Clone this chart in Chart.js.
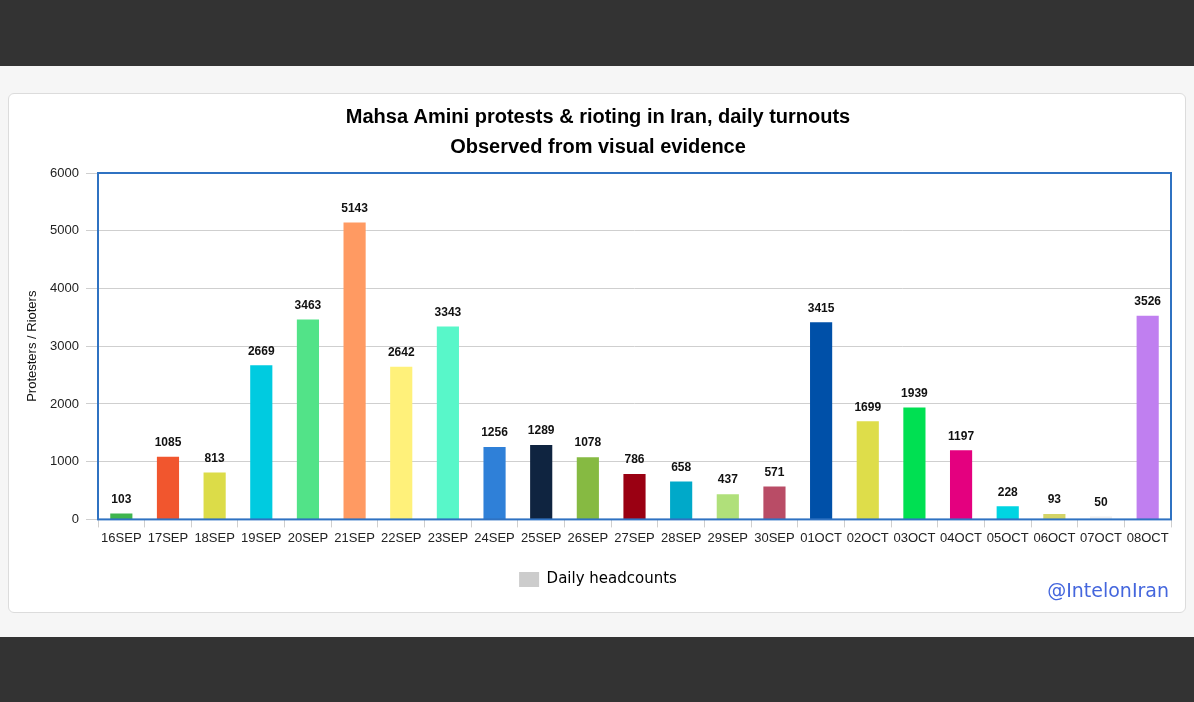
<!DOCTYPE html>
<html>
<head>
<meta charset="utf-8">
<script src="https://cdn.jsdelivr.net/npm/chart.js@4/dist/chart.umd.min.js"></script>
<style>
  html, body { margin: 0; padding: 0; }
  body { width: 1194px; height: 702px; background: #f6f6f6; position: relative; overflow: hidden; font-family: "Liberation Sans", Arial, sans-serif; }
  .band { position: absolute; left: 0; width: 1194px; background: #333333; }
  #card { position: absolute; left: 8px; top: 93px; width: 1176px; height: 518px; background: #fff; border: 1px solid #dcdcdc; border-radius: 6px; }
  #wrap { position: absolute; left: 0; top: 0; width: 1176px; height: 518px; }
  #mark { position: absolute; right: 16px; top: 485px; color: #4466dd; font-family: "DejaVu Sans", sans-serif; font-size: 19px; }
</style>
</head>
<body>
<div class="band" style="top:0;height:66px"></div>
<div class="band" style="top:637px;height:65px"></div>
<div id="card">
  <div id="wrap"><canvas id="c" width="1176" height="518"></canvas></div>
  <div id="mark">@IntelonIran</div>
</div>
<script>
const titleLines = ["Mahsa Amini protests & rioting in Iran, daily turnouts", "Observed from visual evidence"];
const yAxisTitle = "Protesters / Rioters";
const seriesName = "Daily headcounts";
const categories = ["16SEP","17SEP","18SEP","19SEP","20SEP","21SEP","22SEP","23SEP","24SEP","25SEP","26SEP","27SEP","28SEP","29SEP","30SEP","01OCT","02OCT","03OCT","04OCT","05OCT","06OCT","07OCT","08OCT"];
const headcounts = [103,1085,813,2669,3463,5143,2642,3343,1256,1289,1078,786,658,437,571,3415,1699,1939,1197,228,93,50,3526];
const barColors = ["#3fb54e","#f1562e","#dcdc48","#00cbe0","#52e388","#ff9a62","#fff17a","#58f7c9","#2f80d8","#0f2440","#86ba42","#9a0012","#00a9c9","#b0e07a","#b94c66","#0050a8","#dedd4a","#00e052","#e4007f","#00d4e2","#d4d466","#f0f0f0","#c07ff0"];
const yTicks = [0,1000,2000,3000,4000,5000,6000];

const frame = {
  id: 'frame',
  afterDatasetsDraw(chart) {
    const a = chart.chartArea, ctx = chart.ctx;
    ctx.save();
    ctx.strokeStyle = '#2f72c2';
    ctx.lineWidth = 2;
    ctx.strokeRect(a.left, a.top, a.right - a.left, a.bottom - a.top);
    ctx.restore();
  }
};
const valueLabels = {
  id: 'valueLabels',
  afterDatasetsDraw(chart) {
    const ctx = chart.ctx;
    const meta = chart.getDatasetMeta(0);
    ctx.save();
    ctx.font = 'bold 12px "Liberation Sans", Arial, sans-serif';
    ctx.fillStyle = '#111';
    ctx.textAlign = 'center';
    ctx.textBaseline = 'bottom';
    meta.data.forEach((bar, i) => {
      ctx.fillText(String(headcounts[i]), bar.x, bar.y - 8);
    });
    ctx.restore();
  }
};

new Chart(document.getElementById('c'), {
  type: 'bar',
  data: {
    labels: categories,
    datasets: [{
      label: seriesName,
      data: headcounts,
      backgroundColor: barColors,
      borderWidth: 0,
      categoryPercentage: 1,
      barPercentage: 0.475
    }]
  },
  options: {
    responsive: false,
    animation: false,
    layout: { padding: { left: 16, right: 14, top: 0, bottom: 15 } },
    plugins: {
      title: {
        display: true,
        text: titleLines,
        color: '#000',
        font: { family: '"Liberation Sans", Arial, sans-serif', size: 20, weight: 'bold', lineHeight: 1.5 },
        padding: { top: 8, bottom: 11 }
      },
      legend: {
        display: true,
        position: 'bottom',
        labels: {
          color: '#333',
          font: { family: '"DejaVu Sans", sans-serif', size: 15 },
          boxWidth: 20,
          boxHeight: 15,
          padding: 14,
          generateLabels() {
            return [{ text: seriesName, fillStyle: '#cccccc', strokeStyle: '#cccccc', lineWidth: 0, datasetIndex: 0 }];
          }
        }
      },
      tooltip: { enabled: false }
    },
    scales: {
      x: {
        offset: true,
        afterFit(scale) { scale.height += 9; },
        grid: { display: true, drawOnChartArea: false, drawTicks: true, tickLength: 8, color: '#cfcfcf', offset: true },
        border: { display: false },
        ticks: { color: '#222', font: { family: '"Liberation Sans", Arial, sans-serif', size: 13 }, padding: 3, maxRotation: 0, autoSkip: false }
      },
      y: {
        min: 0,
        max: 6000,
        afterBuildTicks(scale) { scale.ticks = yTicks.map(v => ({ value: v })); },
        afterFit(scale) { scale.width = 73; },
        grid: { color: '#cfcfcf', lineWidth: 1, tickLength: 12 },
        border: { display: false },
        ticks: { color: '#222', font: { family: '"Liberation Sans", Arial, sans-serif', size: 13 }, padding: 7, callback: v => String(v) },
        title: { display: true, text: yAxisTitle, color: '#111', font: { family: '"Liberation Sans", Arial, sans-serif', size: 13 }, padding: { top: 0, bottom: 4 } }
      }
    }
  },
  plugins: [frame, valueLabels]
});
</script>
</body>
</html>
